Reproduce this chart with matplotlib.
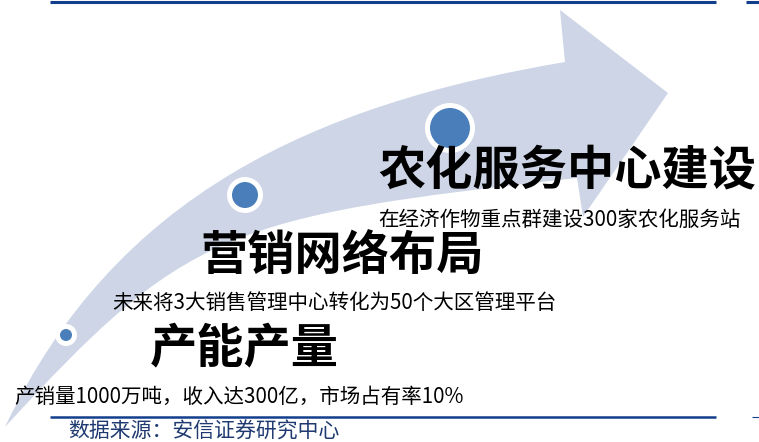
import matplotlib
matplotlib.use("Agg")
import matplotlib.pyplot as plt
from matplotlib.path import Path
from matplotlib.patches import PathPatch, Circle

plt.rcParams['font.family'] = ['Noto Sans CJK SC', 'DejaVu Sans']

# ---- content ----
stage_titles = ["产能产量", "营销网络布局", "农化服务中心建设"]
stage_notes = [
    "产销量1000万吨，收入达300亿，市场占有率10%",
    "未来将3大销售管理中心转化为50个大区管理平台",
    "在经济作物重点群建设300家农化服务站",
]
source_text = "数据来源：安信证券研究中心"

# ---- layout (canvas in pixel units, y grows downward) ----
W, H = 759, 442
marker_xy = [(66, 335), (245, 195), (450, 128)]
marker_r = [6, 13, 20]
ring_r = [11, 18, 25]
title_xy = [(150, 348), (200, 257), (378, 171)]
note_xy = [(14, 397), (112, 303), (378, 220)]

arrow_fill = "#CDD5E6"
marker_color = "#4A7EBB"
rule_color = "#123F8C"
source_color = "#1F3A70"

fig = plt.figure(figsize=(W / 100, H / 100), dpi=100)
ax = fig.add_axes([0, 0, 1, 1])
ax.set_xlim(0, W)
ax.set_ylim(H, 0)
ax.axis("off")

# curved arrow: upper edge, arrow head, lower edge back to the tail
verts = [
    (5, 427),
    (115, 194), (315, 104.5), (565, 62),      # upper edge
    (560, 10), (668, 93), (583, 217), (577, 178),  # head
    (227, 216.5), (185, 230.6), (5, 427),     # lower edge
    (5, 427),
]
codes = [
    Path.MOVETO,
    Path.CURVE4, Path.CURVE4, Path.CURVE4,
    Path.LINETO, Path.LINETO, Path.LINETO, Path.LINETO,
    Path.CURVE4, Path.CURVE4, Path.CURVE4,
    Path.CLOSEPOLY,
]
ax.add_patch(PathPatch(Path(verts, codes), facecolor=arrow_fill,
                       edgecolor="none", zorder=1))

# milestone dots with white rings
for (cx, cy), r, rr in zip(marker_xy, marker_r, ring_r):
    ax.add_patch(Circle((cx, cy), rr, facecolor="white", edgecolor="none", zorder=2))
    ax.add_patch(Circle((cx, cy), r, facecolor=marker_color, edgecolor="none", zorder=3))

# stage titles and notes
for (tx, ty), t in zip(title_xy, stage_titles):
    ax.text(tx, ty, t, fontsize=34, fontweight="bold", color="black",
            ha="left", va="center", zorder=4)
for (nx, ny), t in zip(note_xy, stage_notes):
    ax.text(nx, ny, t, fontsize=14.8, color="black",
            ha="left", va="center", zorder=4)

# header and footer rules
ax.plot([50, 716], [1.5, 1.5], color=rule_color, lw=2.2, solid_capstyle="butt", zorder=5)
ax.plot([746, 759], [1.5, 1.5], color=rule_color, lw=2.2, solid_capstyle="butt", zorder=5)
ax.plot([50, 716], [417, 417], color=rule_color, lw=1.8, solid_capstyle="butt", zorder=5)
ax.plot([752, 759], [417, 417], color=rule_color, lw=0.8, solid_capstyle="butt", zorder=5)

ax.text(68, 432, source_text, fontsize=15, fontstyle="italic", color=source_color,
        ha="left", va="center", zorder=5)

fig.savefig("out.png", dpi=100)
